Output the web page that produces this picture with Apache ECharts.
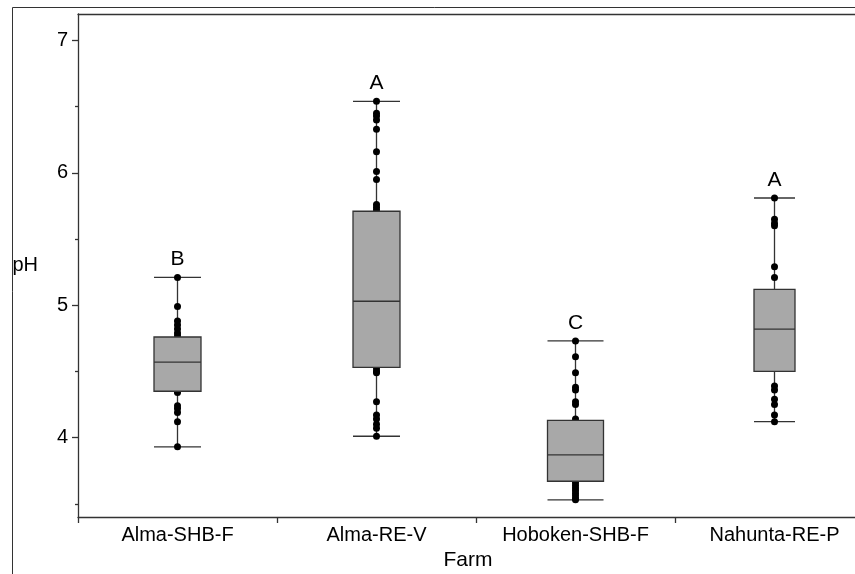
<!DOCTYPE html>
<html>
<head>
<meta charset="utf-8">
<script src="https://cdn.jsdelivr.net/npm/echarts@6/dist/echarts.min.js"></script>
<style>html,body{margin:0;padding:0;background:#fff;}#chart{width:855px;height:574px;}</style>
</head>
<body>
<div id="chart"></div>
<script>
// ---- data ----
const categories = ['Alma-SHB-F', 'Alma-RE-V', 'Hoboken-SHB-F', 'Nahunta-RE-P'];
// [min, Q1, median, Q3, max]
const statsAlmaSHB = [3.93, 4.35, 4.57, 4.76, 5.21];
const statsAlmaRE  = [4.01, 4.53, 5.03, 5.71, 6.54];
const statsHoboken = [3.53, 3.67, 3.87, 4.13, 4.73];
const statsNahunta = [4.12, 4.50, 4.82, 5.12, 5.81];
// individual observations (visible ones)
const ptsAlmaSHB = [5.21, 4.99, 4.88, 4.85, 4.82, 4.79, 4.77, 4.35, 4.34, 4.24, 4.22, 4.19, 4.12, 3.93];
const ptsAlmaRE  = [6.54, 6.45, 6.43, 6.40, 6.33, 6.16, 6.01, 5.95, 5.76, 5.74, 5.72, 4.52, 4.50, 4.49, 4.27, 4.17, 4.14, 4.10, 4.07, 4.01];
const ptsHoboken = [4.73, 4.61, 4.49, 4.38, 4.36, 4.27, 4.25, 4.14, 3.66, 3.64, 3.62, 3.60, 3.58, 3.56, 3.54, 3.53];
const ptsNahunta = [5.81, 5.65, 5.62, 5.60, 5.29, 5.21, 4.39, 4.36, 4.29, 4.25, 4.17, 4.12];
const letters = ['B', 'A', 'C', 'A'];
const yMajorTicks = [4, 5, 6, 7];
const yMinorTicks = [3.5, 4.5, 5.5, 6.5];

// ---- style ----
const boxWidthPx = [47, 47, 56, 41];
const FONT = 'Arial, "Liberation Sans", sans-serif';
const LINE = '#333';

const allStats = [statsAlmaSHB, statsAlmaRE, statsHoboken, statsNahunta];
const allPts = [ptsAlmaSHB, ptsAlmaRE, ptsHoboken, ptsNahunta];
const boxData = allStats.map((s, i) => [i].concat(s));
const pointData = [];
allPts.forEach((arr, i) => arr.forEach(v => pointData.push([i, v])));

function whiskerItem(params, api) {
  const i = api.value(0);
  const w = boxWidthPx[i];
  const lo = api.coord([i, api.value(1)]);
  const hi = api.coord([i, api.value(5)]);
  const st = { stroke: LINE, lineWidth: 1.3 };
  return {
    type: 'group',
    children: [
      { type: 'line', shape: { x1: lo[0], y1: lo[1], x2: hi[0], y2: hi[1] }, style: st },
      { type: 'line', shape: { x1: hi[0] - w / 2, y1: hi[1], x2: hi[0] + w / 2, y2: hi[1] }, style: st },
      { type: 'line', shape: { x1: lo[0] - w / 2, y1: lo[1], x2: lo[0] + w / 2, y2: lo[1] }, style: st }
    ]
  };
}

function boxItem(params, api) {
  const i = api.value(0);
  const w = boxWidthPx[i];
  const q1 = api.coord([i, api.value(2)]);
  const med = api.coord([i, api.value(3)]);
  const q3 = api.coord([i, api.value(4)]);
  const hi = api.coord([i, api.value(5)]);
  return {
    type: 'group',
    children: [
      { type: 'rect', shape: { x: q3[0] - w / 2, y: q3[1], width: w, height: q1[1] - q3[1] },
        style: { fill: '#a8a8a8', stroke: LINE, lineWidth: 1.3 } },
      { type: 'line', shape: { x1: med[0] - w / 2, y1: med[1], x2: med[0] + w / 2, y2: med[1] },
        style: { stroke: LINE, lineWidth: 1.3 } },
      { type: 'text', style: { text: letters[i], x: hi[0], y: hi[1] - 18, textAlign: 'center',
        textVerticalAlign: 'middle', fontSize: 21, fontFamily: FONT, fill: '#000' } }
    ]
  };
}

const chart = echarts.init(document.getElementById('chart'), null, { renderer: 'canvas' });
chart.setOption({
  animation: false,
  backgroundColor: '#fff',
  graphic: [{
    type: 'rect', left: 10, top: 5, shape: { width: 900, height: 600 },
    style: { fill: 'none', stroke: LINE, lineWidth: 1 }, silent: true, z: -1
  }],
  grid: { left: 78, width: 796, top: 14, bottom: 57, outerBoundsMode: 'none', containLabel: false },
  xAxis: [{
    type: 'category', data: categories, boundaryGap: true,
    name: 'Farm', nameLocation: 'middle', nameGap: 29,
    nameTextStyle: { fontSize: 21, fontFamily: FONT, color: '#000', padding: [0, 16, 0, 0] },
    axisLine: { lineStyle: { color: LINE, width: 1.3 } },
    axisTick: { show: true, length: 6, lineStyle: { color: LINE, width: 1.3 } },
    axisLabel: { fontSize: 20, fontFamily: FONT, color: '#000', margin: 8 },
    splitLine: { show: false }
  }, {
    type: 'category', data: categories, position: 'top',
    axisLine: { lineStyle: { color: LINE, width: 1.3 } },
    axisTick: { show: false }, axisLabel: { show: false }, splitLine: { show: false }
  }],
  yAxis: [{
    type: 'value', min: 3.4, max: 7.2,
    name: 'pH', nameLocation: 'middle', nameRotate: 0, nameGap: 40,
    nameTextStyle: { fontSize: 20, fontFamily: FONT, color: '#000' },
    axisLine: { show: true, lineStyle: { color: LINE, width: 1.3 } },
    axisTick: { show: true, length: 6, customValues: yMajorTicks, lineStyle: { color: LINE, width: 1.3 } },
    axisLabel: { customValues: yMajorTicks, fontSize: 20, fontFamily: FONT, color: '#000', margin: 10 },
    splitLine: { show: false }
  }, {
    type: 'value', min: 3.4, max: 7.2, position: 'left',
    axisLine: { show: false },
    axisTick: { show: true, length: 3, customValues: yMinorTicks, lineStyle: { color: LINE, width: 1.3 } },
    axisLabel: { show: false }, splitLine: { show: false }
  }],
  series: [{
    type: 'custom', name: 'whiskers', z: 1, renderItem: whiskerItem,
    data: boxData, encode: { x: 0, y: [1, 5] }
  }, {
    type: 'scatter', name: 'points', z: 2, data: pointData,
    symbol: 'circle', symbolSize: 7, itemStyle: { color: '#000', opacity: 1 }
  }, {
    type: 'custom', name: 'boxes', z: 3, renderItem: boxItem,
    data: boxData, encode: { x: 0, y: [1, 2, 3, 4, 5] }
  }]
});
</script>
</body>
</html>
